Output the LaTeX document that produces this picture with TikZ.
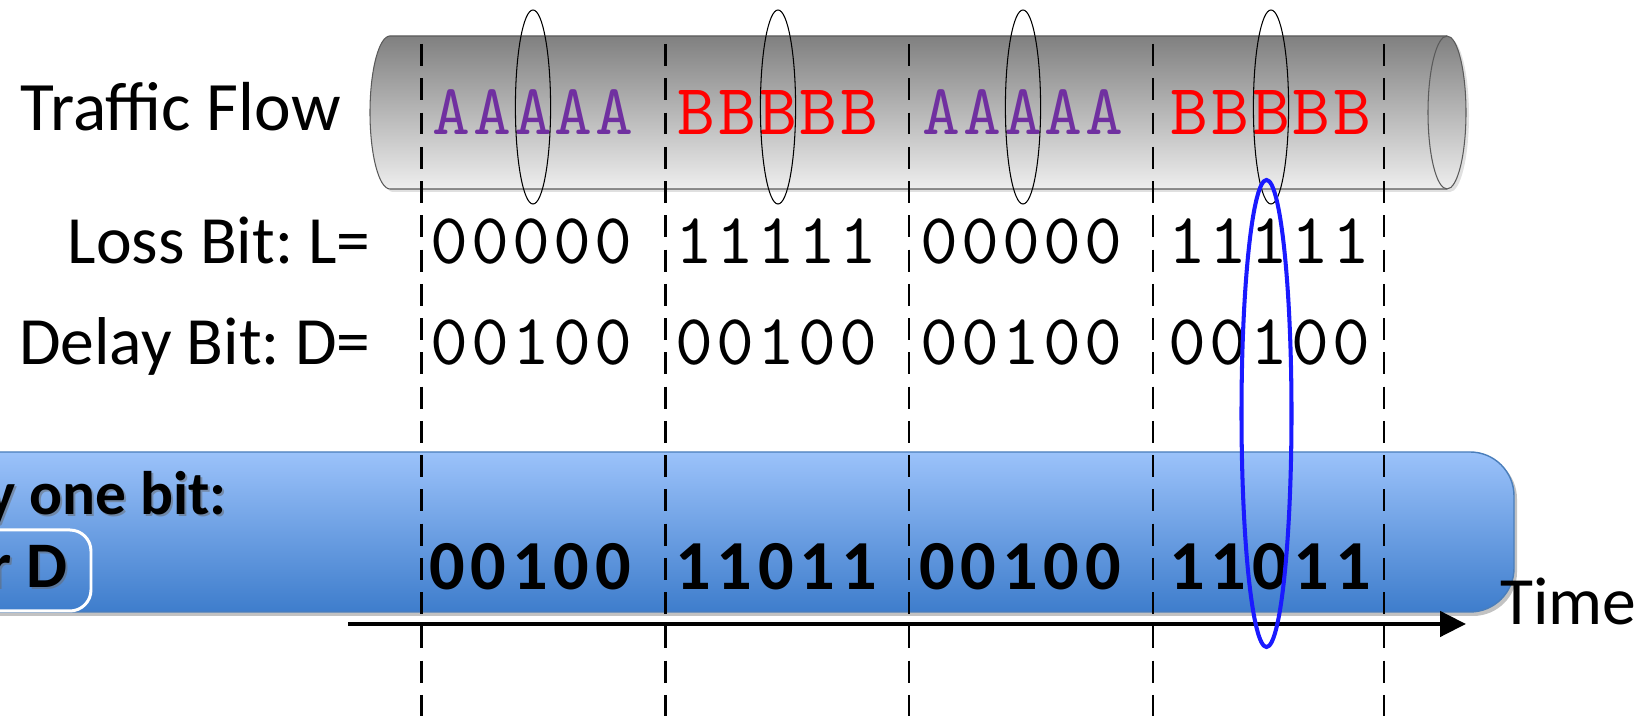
\documentclass[tikz,border=0pt]{standalone}
\usepackage{fontspec}
\setsansfont{Carlito}
\newfontfamily\flowfont{lmmono10-regular.otf}[LetterSpace=4]
\newfontfamily\bitfont{lmmono10-regular.otf}[LetterSpace=4.4]
\newfontfamily\sumfont{Carlito}[LetterSpace=8.3]
\usetikzlibrary{arrows.meta}
\frenchspacing

\definecolor{flowA}{RGB}{112,48,160}
\definecolor{flowB}{RGB}{255,0,0}
\definecolor{cyltop}{RGB}{128,128,128}
\definecolor{cylbot}{RGB}{238,238,238}
\definecolor{cylline}{RGB}{90,90,90}
\definecolor{bandtop}{RGB}{155,194,250}
\definecolor{bandbot}{RGB}{62,125,204}
\definecolor{bandline}{RGB}{74,126,187}
\definecolor{markblue}{RGB}{26,26,255}

\tikzset{
  rowname/.style={font=\sffamily\fontsize{38.5}{40}\selectfont, inner sep=0pt},
  letters/.style={font=\flowfont\fontsize{41}{42}\selectfont, inner sep=0pt, anchor=base},
  bits/.style={font=\bitfont\fontsize{41}{42}\selectfont, inner sep=0pt, anchor=base},
  sumbits/.style={font=\sumfont\bfseries\fontsize{40}{41}\selectfont, inner sep=0pt, anchor=base},
  bandtext/.style={font=\sffamily\bfseries\fontsize{35}{36}\selectfont, inner sep=0pt, anchor=base east},
  slot/.style={line width=1.4pt, dash pattern=on 12.5pt off 7pt}
}

\begin{document}
\begin{tikzpicture}[x=0.02cm,y=0.02cm]
\useasboundingbox (0,0) rectangle (1641,716);

\fill[black!12] (393,677) -- (1450,677) arc[start angle=90,end angle=-90,x radius=19,y radius=76.5] -- (393,524) arc[start angle=270,end angle=90,x radius=20,y radius=76.5] -- cycle;
\draw[cylline, line width=0.6pt, top color=cyltop, bottom color=cylbot] (390,680) -- (1447,680) arc[start angle=90,end angle=-90,x radius=19,y radius=76.5] -- (390,527) arc[start angle=270,end angle=90,x radius=20,y radius=76.5] -- cycle;
\draw[cylline, line width=0.6pt] (1447,680) arc[start angle=90,end angle=270,x radius=19,y radius=76.5];

\node[rowname, anchor=base east, font=\sffamily\fontsize{39.5}{41}\selectfont] (flowname) at (341,585) {Traffic Flow};
\node[rowname, anchor=base east] (lossname) at (371,452) {Loss Bit: L=};
\node[rowname, anchor=base east] (delayname) at (371,351) {Delay Bit: D=};

\foreach \x/\s/\c [count=\i] in {533/AAAAA/flowA, 778/BBBBB/flowB, 1023/AAAAA/flowA, 1271/BBBBB/flowB} {
  \node[letters, text=\c] (flow\i) at (\x,581) {\s};
  \draw[line width=0.6pt] (\x,609) ellipse (17.6 and 97);
}

\foreach \x/\l/\d [count=\i] in {531/00000/00100, 776/11111/00100, 1021/00000/00100, 1269/11111/00100} {
  \node[bits] (loss\i) at (\x,452) {\l};
  \node[bits] (delay\i) at (\x,351) {\d};
}

\fill[black!40, opacity=0.6, rounded corners=25] (-60,100) rectangle (1517,261);
\draw[bandline, line width=0.8pt, top color=bandtop, bottom color=bandbot, rounded corners=25] (-60,104) rectangle (1514,264);

\node[bandtext, text=black!60, opacity=0.5] (ruleshadow) at (229,199) {y one bit:};
\node[bandtext] (rule) at (227,201) {y one bit:};
\draw[white, line width=1.7pt, rounded corners=12] (-60,105) rectangle (91,186);
\node[bandtext, text=black!60, opacity=0.5, font=\sffamily\bfseries\fontsize{37}{38}\selectfont] (choiceshadow) at (70,126) {r D};
\node[bandtext, font=\sffamily\bfseries\fontsize{37}{38}\selectfont] (choice) at (68,128) {r D};

\foreach \x/\s [count=\i] in {530/00100, 776/11011, 1020/00100, 1270/11011}
  \node[sumbits] (sum\i) at (\x,126) {\s};

\foreach \x [count=\i] in {421.7, 665.5, 909, 1153, 1384} {
  \coordinate (top\i) at (\x,672);
  \coordinate (bot\i) at (\x,-5);
  \draw[slot] (top\i) -- (bot\i);
}

\coordinate (start) at (348,92);
\coordinate (end) at (1466,92);
\draw[line width=2.6pt, -{Triangle[length=0.52cm,width=0.5cm]}] (start) -- (end);
\node[rowname, anchor=base west] (time) at (1500,91) {Time};

\draw[markblue, line width=2.3pt] (1266.5,302.5) ellipse (25 and 233.5);
\end{tikzpicture}
\end{document}
